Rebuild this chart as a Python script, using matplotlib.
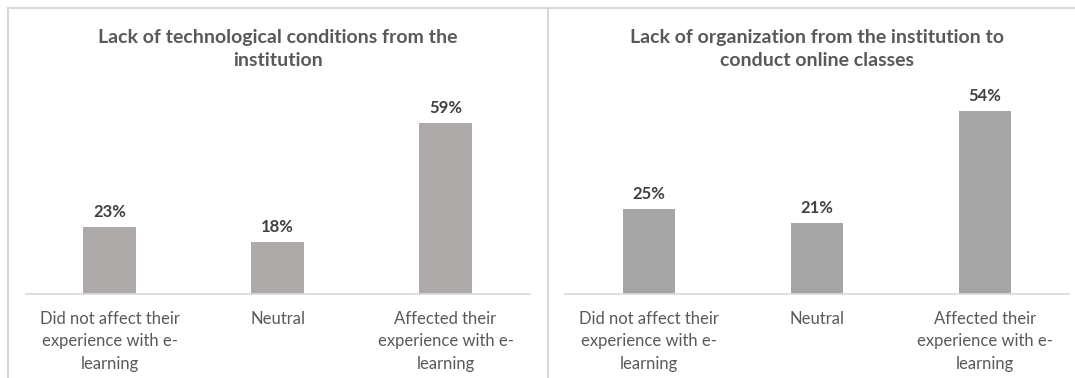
import matplotlib.pyplot as plt
from matplotlib.lines import Line2D

# Survey answers shared by both panels
categories = ["Did not affect their\nexperience with e-\nlearning",
              "Neutral",
              "Affected their\nexperience with e-\nlearning"]

tech_title = "Lack of technological conditions from the\ninstitution"
tech_values = [23, 18, 59]

org_title = "Lack of organization from the institution to\nconduct online classes"
org_values = [25, 21, 54]

FONT = "Lato"
TITLE_COLOR = "#595959"
LABEL_COLOR = "#404040"
TICK_COLOR = "#595959"
BORDER_COLOR = "#D9D9D9"


def draw_panel(ax, title, values, color, ymax):
    x = range(len(categories))
    bars = ax.bar(x, values, width=0.315, color=color)
    ax.set_xlim(-0.5, len(categories) - 0.5)
    ax.set_ylim(0, ymax)

    for rect, v in zip(bars, values):
        ax.annotate(f"{v}%", (rect.get_x() + rect.get_width() / 2, v),
                    xytext=(0, 5), textcoords="offset points",
                    ha="center", va="bottom", fontsize=12, fontweight="bold",
                    color=LABEL_COLOR, family=FONT)

    ax.set_xticks(list(x))
    ax.set_xticklabels(categories, fontsize=12, color=TICK_COLOR,
                       family=FONT, linespacing=1.5)
    ax.tick_params(axis="x", length=0, pad=12)
    ax.set_yticks([])
    for side in ["top", "left", "right"]:
        ax.spines[side].set_visible(False)
    ax.spines["bottom"].set_color(BORDER_COLOR)
    ax.spines["bottom"].set_linewidth(1.2)
    ax.set_facecolor("none")

    # title sits above the plot area, centred on the panel
    ax.text(0.5, 1.0 + (91 - 49) / 203, title,
            transform=ax.transAxes, ha="center", va="center",
            fontsize=14, fontweight="bold", color=TITLE_COLOR,
            family=FONT, linespacing=1.5)


fig = plt.figure(figsize=(10.75, 3.78), dpi=100)
W, H = 1075, 378

ax1 = fig.add_axes([25.5 / W, 84 / H, 504 / W, 203 / H])
ax2 = fig.add_axes([565 / W, 84 / H, 504 / W, 203 / H])

draw_panel(ax1, tech_title, tech_values, "#AEAAAA", 70)
draw_panel(ax2, org_title, org_values, "#A5A5A5", 60)

# chart frames
frame = dict(color=BORDER_COLOR, linewidth=1.5, transform=fig.transFigure)
fig.add_artist(Line2D([8 / W, 1], [1 - 8 / H, 1 - 8 / H], **frame))
fig.add_artist(Line2D([8 / W, 8 / W], [0, 1 - 8 / H], **frame))
fig.add_artist(Line2D([548 / W, 548 / W], [0, 1 - 8 / H], **frame))

fig.savefig("out.png", dpi=100)
